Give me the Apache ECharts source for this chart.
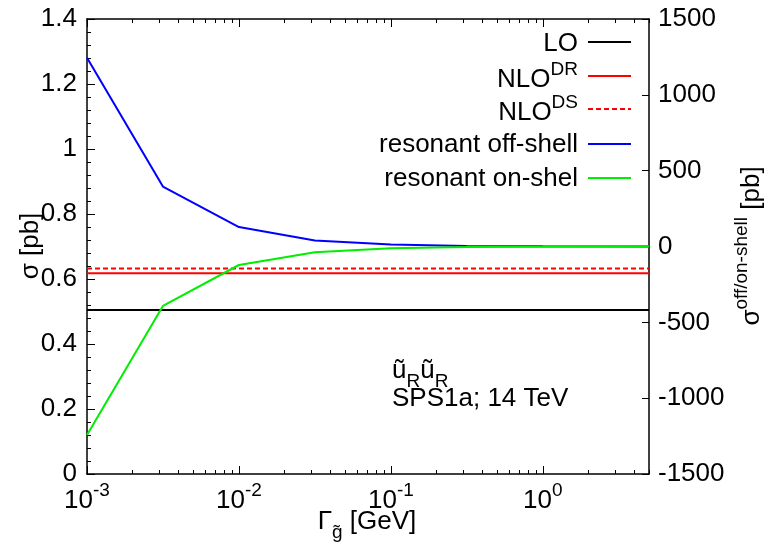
<!DOCTYPE html>
<html>
<head>
<meta charset="utf-8">
<script src="https://cdn.jsdelivr.net/npm/echarts@6/dist/echarts.min.js"></script>
<style>
html,body{margin:0;padding:0;background:#fff;}
#chart{width:771px;height:546px;}
</style>
</head>
<body>
<div id="chart"></div>
<script>
// ---- data ----
var xGamma = [0.001, 0.00316, 0.01, 0.0316, 0.1, 0.316, 1, 5];
var offShell = [1245, 395, 128, 40, 13, 4, 1, 0];
var onShell = [-1243, -392, -122, -38, -11, -3, -1, 0];
var xRange = [0.001, 5];
var loValue = 0.505;
var nloDR = 0.618;
var nloDS = 0.632;
var xMajorTicks = [0.001, 0.01, 0.1, 1];
var xMinorTicks = [0.002,0.003,0.004,0.005,0.006,0.007,0.008,0.009,
                   0.02,0.03,0.04,0.05,0.06,0.07,0.08,0.09,
                   0.2,0.3,0.4,0.5,0.6,0.7,0.8,0.9,
                   2,3,4,5];
var seriesNames = ['LO', 'NLO DR', 'NLO DS', 'resonant off-shell', 'resonant on-shel'];

var FONT = 'Liberation Sans, Arial, Helvetica, sans-serif';
var chart = echarts.init(document.getElementById('chart'), null, {renderer: 'canvas'});

function pairs(xs, ys) { return xs.map(function (x, i) { return [x, ys[i]]; }); }
function flat(v) { return [[xRange[0], v], [xRange[1], v]]; }

var axisLineStyle = {color: '#000', width: 1.5};

function xAxisDef(pos, minor, labels) {
  return {
    type: 'log', logBase: 10, gridIndex: 0, position: pos,
    min: xRange[0], max: xRange[1],
    axisLine: {show: !minor, onZero: false, lineStyle: axisLineStyle},
    axisTick: {show: true, inside: true, length: minor ? 4 : 8,
               customValues: minor ? xMinorTicks : xMajorTicks,
               lineStyle: {color: '#000', width: 1}},
    axisLabel: labels ? {
      show: true, customValues: xMajorTicks, margin: 7,
      formatter: function (v) { return '{m|10}{sup|' + Math.round(Math.log10(v)) + '}'; },
      rich: {
        m: {fontSize: 26, fontFamily: FONT, color: '#000', lineHeight: 40, verticalAlign: 'middle'},
        sup: {fontSize: 19, fontFamily: FONT, color: '#000', lineHeight: 18, verticalAlign: 'top'}
      }
    } : {show: false},
    splitLine: {show: false},
    minorTick: {show: false}
  };
}

var option = {
  animation: false,
  backgroundColor: '#fff',
  grid: {left: 87, right: 122, top: 19, bottom: 72, containLabel: false},
  xAxis: [
    xAxisDef('bottom', false, true),
    xAxisDef('bottom', true, false),
    xAxisDef('top', false, false),
    xAxisDef('top', true, false)
  ],
  yAxis: [
    {
      type: 'value', position: 'left', min: 0, max: 1.4, interval: 0.2,
      axisLine: {show: true, onZero: false, lineStyle: axisLineStyle},
      axisTick: {show: true, inside: true, length: 8, lineStyle: {color: '#000', width: 1}},
      minorTick: {show: true, splitNumber: 5, length: 4, lineStyle: {color: '#000', width: 1}},
      axisLabel: {fontSize: 26, fontFamily: FONT, color: '#000', margin: 10,
                  formatter: function (v) { return String(Math.round(v * 10) / 10); }},
      splitLine: {show: false}
    },
    {
      type: 'value', position: 'right', min: -1500, max: 1500, interval: 500,
      axisLine: {show: true, onZero: false, lineStyle: axisLineStyle},
      axisTick: {show: true, inside: true, length: 7, lineStyle: {color: '#000', width: 1}},
      axisLabel: {fontSize: 26, fontFamily: FONT, color: '#000', margin: 9,
                  formatter: function (v) { return String(Math.round(v)); }},
      splitLine: {show: false}
    }
  ],
  series: [
    {name: seriesNames[0], type: 'line', xAxisIndex: 0, yAxisIndex: 0, symbol: 'none',
     data: flat(loValue), lineStyle: {color: '#000', width: 2}},
    {name: seriesNames[1], type: 'line', xAxisIndex: 0, yAxisIndex: 0, symbol: 'none',
     data: flat(nloDR), lineStyle: {color: '#ff0000', width: 2}},
    {name: seriesNames[2], type: 'line', xAxisIndex: 0, yAxisIndex: 0, symbol: 'none',
     data: flat(nloDS), lineStyle: {color: '#ff0000', width: 2, type: [5, 3]}},
    {name: seriesNames[3], type: 'line', xAxisIndex: 0, yAxisIndex: 1, symbol: 'none',
     data: pairs(xGamma, offShell), lineStyle: {color: '#0000ff', width: 2}},
    {name: seriesNames[4], type: 'line', xAxisIndex: 0, yAxisIndex: 1, symbol: 'none',
     data: pairs(xGamma, onShell), lineStyle: {color: '#00ee00', width: 2}}
  ],
  graphic: []
};

// legend (text right-aligned, sample line to the right)
var legendRows = [
  {text: '{m|LO}', y: 44, line: 42, stroke: '#000', dash: null},
  {text: '{m|NLO}{sup|DR}', y: 80, line: 76, stroke: '#ff0000', dash: null},
  {text: '{m|NLO}{sup|DS}', y: 113, line: 109, stroke: '#ff0000', dash: [5, 3]},
  {text: '{m|resonant off-shell}', y: 145, line: 144, stroke: '#0000ff', dash: null},
  {text: '{m|resonant on-shel}', y: 179, line: 178, stroke: '#00ee00', dash: null}
];
var richMS = {
  m: {fontSize: 26, fontFamily: FONT, fill: '#000', color: '#000', lineHeight: 40, verticalAlign: 'middle'},
  sup: {fontSize: 19, fontFamily: FONT, fill: '#000', color: '#000', lineHeight: 18, verticalAlign: 'top'},
  sub: {fontSize: 19, fontFamily: FONT, fill: '#000', color: '#000', lineHeight: 20, verticalAlign: 'bottom'}
};
legendRows.forEach(function (r) {
  option.graphic.push({
    type: 'text', x: 578, y: r.y, silent: true,
    style: {text: r.text, rich: richMS, align: 'right', verticalAlign: 'middle', fontFamily: FONT, fontSize: 26, fill: '#000'}
  });
  option.graphic.push({
    type: 'line', silent: true,
    shape: {x1: 588, y1: r.line, x2: 631, y2: r.line},
    style: {stroke: r.stroke, lineWidth: 2, lineDash: r.dash}
  });
});

// annotation
option.graphic.push({
  type: 'text', x: 392, y: 371, silent: true,
  style: {text: '{m|ũ}{sub|R}{m|ũ}{sub|R}', rich: richMS, align: 'left', verticalAlign: 'middle', fill: '#000'}
});
option.graphic.push({
  type: 'text', x: 392, y: 399, silent: true,
  style: {text: 'SPS1a; 14 TeV', fontSize: 26, fontFamily: FONT, align: 'left', verticalAlign: 'middle', fill: '#000'}
});

// axis titles
option.graphic.push({
  type: 'text', x: 367, y: 522, silent: true,
  style: {text: '{m|Γ}{sub|g\u0303}{m| [GeV]}', rich: richMS, align: 'center', verticalAlign: 'middle', fill: '#000'}
});
option.graphic.push({
  type: 'text', x: 31, y: 246, rotation: Math.PI / 2, silent: true,
  style: {text: 'σ [pb]', fontSize: 26, fontFamily: FONT, align: 'center', verticalAlign: 'middle', fill: '#000'}
});
option.graphic.push({
  type: 'text', x: 752, y: 246, rotation: Math.PI / 2, silent: true,
  style: {text: '{m|σ}{sup|off/on-shell}{m| [pb]}', rich: richMS, align: 'center', verticalAlign: 'middle', fill: '#000'}
});

chart.setOption(option);
</script>
</body>
</html>
